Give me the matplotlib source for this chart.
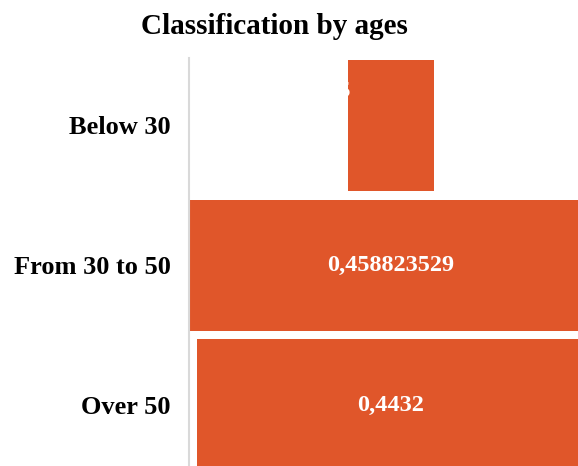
import matplotlib.pyplot as plt

categories = ['Below 30', 'From 30 to 50', 'Over 50']
values = [0.0975, 0.458823529, 0.4432]
labels = ['0,0975', '0,458823529', '0,4432']

bar_color = '#E0562A'
plt.rcParams['font.family'] = ['Liberation Serif', 'DejaVu Serif']

fig = plt.figure(figsize=(5.78, 4.66), dpi=100)
W, H = 578, 466
ax = fig.add_axes([189 / W, 0, (W - 189) / W, (466 - 58) / H])

ypos = list(range(len(categories)))
lefts = [-v / 2 for v in values]
ax.barh(ypos, values, left=lefts, height=0.936, color=bar_color)

for y, txt in zip(ypos[1:], labels[1:]):
    ax.text(0, y, txt, ha='center', va='center', color='white',
            fontsize=17.5, fontweight='bold')
# first label sits mostly outside its narrow bar, white on white
ax.text(-values[0] / 2 + 0.003, -0.24, labels[0], ha='right', va='center',
        color='white', fontsize=17.5, fontweight='bold')

ax.set_xlim(-0.2306, 0.2134)
ax.set_ylim(2.436, -0.479)
ax.set_yticks(ypos)
ax.set_yticklabels(categories, fontsize=19, fontweight='bold')
ax.tick_params(axis='y', length=0, pad=13)
ax.set_xticks([])
for s in ['top', 'right', 'bottom']:
    ax.spines[s].set_visible(False)
ax.spines['left'].set_color('#d9d9d9')
ax.spines['left'].set_linewidth(1.5)

fig.text(274 / W, 1 - 27 / H, 'Classification by ages', ha='center', va='center',
         fontsize=21, fontweight='bold')

fig.savefig('out.png', dpi=100)
